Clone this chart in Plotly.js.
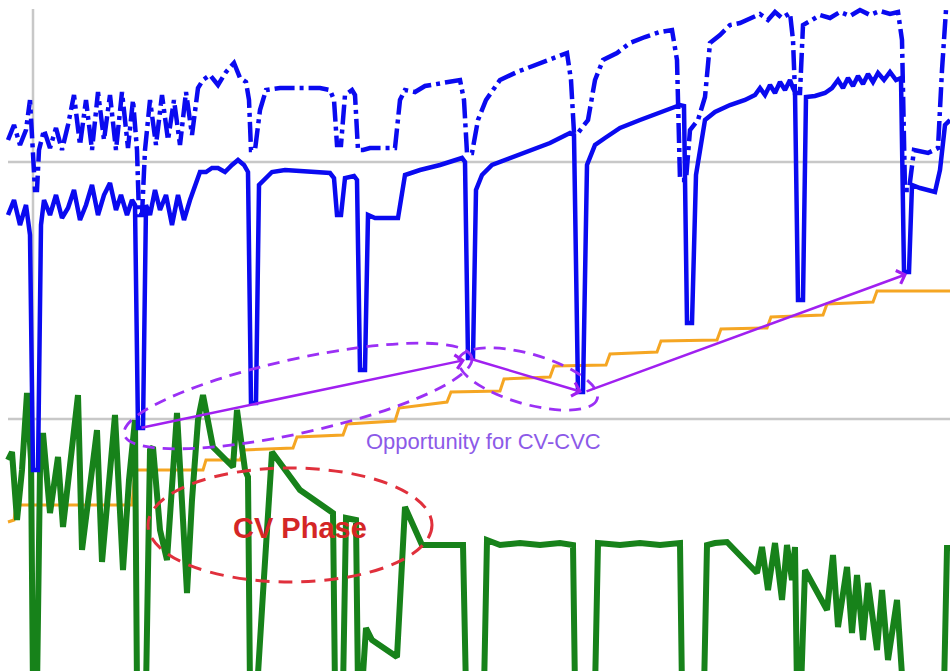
<!DOCTYPE html>
<html>
<head>
<meta charset="utf-8">
<script src="https://cdn.plot.ly/plotly-3.0.1.min.js"></script>
<style>html,body{margin:0;padding:0;background:#fff;}#chart{width:950px;height:671px;}</style>
</head>
<body>
<div id="chart"></div>
<script>
// ---- Data (time axis = horizontal, value axis = vertical, drawn top-down) ----
const blueSolidT = [8,14,20,26,28,30,33,38,41,44,50,56,62,68,74,80,86,92,98,104,110,116,121,127,132,135,138,143,146,150,155,160,166,172,178,184,190,196,200,206,212,218,225,232,238,244,248,251,256,259,266,272,285,300,315,330,334,337,341,345,354,357,360,365,368,375,398,405,420,440,462,465,468,473,476,482,492,510,530,550,570,574,578,583,587,595,605,620,640,660,680,684,687,692,696,705,715,730,745,755,760,765,770,775,780,785,790,793,795,798,803,806,815,825,832,838,843,848,853,858,863,868,873,878,884,890,896,901,904,909,912,920,935,940,945,950];
const blueSolidV = [215,200,225,205,220,235,470,470,225,200,215,195,218,208,190,220,205,185,215,195,183,210,195,215,200,205,428,428,205,215,190,210,195,225,195,220,200,185,172,172,168,168,172,165,160,165,172,403,403,185,178,172,170,171,172,173,178,215,215,178,176,180,370,370,215,218,218,175,170,165,158,162,358,358,190,175,165,158,150,143,133,135,392,392,165,145,138,128,120,112,105,106,323,323,175,120,112,105,100,95,88,95,85,93,82,90,80,88,92,300,300,97,96,93,88,80,88,78,86,76,84,74,82,73,80,72,80,78,272,272,185,188,192,170,125,120];

const blueDashT = [8,14,20,26,30,33,35,37,39,44,50,56,62,68,74,80,86,92,98,104,110,116,122,128,133,137,139,142,145,150,156,162,168,174,180,186,192,198,203,210,218,226,234,240,246,249,251,255,260,266,280,300,320,330,334,337,341,345,352,355,358,363,370,395,400,405,415,425,435,450,460,464,467,472,478,486,493,500,517,535,553,567,571,574,578,588,595,603,617,630,645,660,672,677,680,686,690,698,705,710,720,730,740,750,760,768,775,782,790,793,795,800,803,812,820,830,840,850,860,870,880,890,898,902,905,909,914,928,938,942,946,950];
const blueDashV = [140,125,145,130,100,150,190,190,150,130,148,128,150,125,95,145,100,150,92,140,95,150,92,148,100,150,215,215,150,100,145,95,140,100,145,92,135,88,80,75,85,72,63,78,82,100,150,150,110,90,88,88,88,90,100,145,145,95,90,95,150,150,148,148,100,90,92,86,84,82,80,100,153,153,120,100,90,80,72,65,58,53,80,133,133,120,80,60,53,43,37,32,30,60,180,180,130,120,97,43,35,25,23,18,14,20,12,18,13,40,93,93,25,20,15,18,12,16,10,15,11,14,12,40,190,190,150,153,148,70,10,10];

const orangeT = [8,14,16,132,135,203,206,240,244,293,297,343,347,395,399,447,451,500,504,550,554,606,610,657,661,717,721,767,771,823,827,873,877,950];
const orangeV = [522,520,505,505,470,470,460,460,450,448,437,435,424,421,408,402,392,391,379,377,366,365,354,352,341,340,329,328,317,315,304,302,291,291];

const greenT = [8,12,17,22,27,31,33,37,40,43,50,58,63,70,78,82,90,97,102,109,115,123,129,135,137,146,150,153,160,167,172,177,183,187,192,198,203,213,233,237,245,248,250,257,263,272,300,333,335,343,346,356,358,362,366,372,397,405,422,463,466,484,487,500,520,540,560,573,575,595,598,620,640,660,680,682,704,707,715,727,757,762,768,775,782,787,792,795,797,801,805,827,833,838,847,852,857,863,868,877,882,888,897,903,944,947,950];
const greenV = [460,452,520,470,393,460,690,690,470,433,513,457,527,470,395,550,480,430,562,480,415,570,480,420,690,690,450,447,530,560,480,413,520,593,500,420,395,447,467,410,470,477,690,690,593,452,490,513,690,690,518,520,690,690,628,640,657,507,545,545,690,690,540,545,543,545,543,545,690,690,543,545,543,545,543,690,690,545,543,542,573,547,590,543,600,545,580,547,690,690,570,610,555,627,567,633,575,640,583,650,590,660,600,690,690,548,548];

// annotation content
const arrowTailT = [140, 468, 585];
const arrowTailV = [428, 358, 392];
const arrowHeadT = [465, 582, 907];
const arrowHeadV = [360, 392, 274];
const labelOpportunity = 'Opportunity for CV-CVC';
const labelCV = 'CV Phase';

// ---- helpers ----
function ellipsePath(cx, cy, a, b, deg) {
  const th = deg * Math.PI / 180, k = 0.5523;
  const ux = Math.cos(th), uy = Math.sin(th), vx = -Math.sin(th), vy = Math.cos(th);
  const P = (p, q) => (cx + p * a * ux + q * b * vx).toFixed(2) + ',' + (cy + p * a * uy + q * b * vy).toFixed(2);
  return 'M' + P(1, 0) +
    ' C' + P(1, k) + ' ' + P(k, 1) + ' ' + P(0, 1) +
    ' C' + P(-k, 1) + ' ' + P(-1, k) + ' ' + P(-1, 0) +
    ' C' + P(-1, -k) + ' ' + P(-k, -1) + ' ' + P(0, -1) +
    ' C' + P(k, -1) + ' ' + P(1, -k) + ' ' + P(1, 0) + ' Z';
}

const traces = [
  {x: orangeT, y: orangeV, mode: 'lines', line: {color: '#f5a623', width: 3}, hoverinfo: 'skip'},
  {x: greenT, y: greenV, mode: 'lines', line: {color: '#17821a', width: 6}, hoverinfo: 'skip'},
  {x: blueDashT, y: blueDashV, mode: 'lines', line: {color: '#0a0af0', width: 4.5, dash: '20px,5px,4px,5px'}, hoverinfo: 'skip'},
  {x: blueSolidT, y: blueSolidV, mode: 'lines', line: {color: '#0a0af0', width: 4.5}, hoverinfo: 'skip'}
];

const purple = '#a020f0';
const annotations = [];
for (let i = 0; i < arrowTailT.length; i++) {
  annotations.push({
    x: arrowHeadT[i], y: arrowHeadV[i], ax: arrowTailT[i], ay: arrowTailV[i],
    xref: 'x', yref: 'y', axref: 'x', ayref: 'y', text: '', showarrow: true,
    arrowhead: 4, arrowsize: 1.1, arrowwidth: 2.5, arrowcolor: purple, standoff: 0
  });
}
annotations.push({x: 483, y: 441, xref: 'x', yref: 'y', text: labelOpportunity, showarrow: false,
  font: {family: 'Liberation Sans, Arial, sans-serif', size: 22, color: '#8c5ae8'}, xanchor: 'center', yanchor: 'middle'});
annotations.push({x: 300, y: 528, xref: 'x', yref: 'y', text: '<b>' + labelCV + '</b>', showarrow: false,
  font: {family: 'Liberation Sans, Arial, sans-serif', size: 29, color: '#d42626'}, xanchor: 'center', yanchor: 'middle'});

const grey = '#c8c8c8';
const shapes = [
  {type: 'line', xref: 'x', yref: 'y', x0: 33, x1: 33, y0: 9, y1: 671, line: {color: grey, width: 2.5}, layer: 'below'},
  {type: 'line', xref: 'x', yref: 'y', x0: 8, x1: 950, y0: 162, y1: 162, line: {color: grey, width: 2.5}, layer: 'below'},
  {type: 'line', xref: 'x', yref: 'y', x0: 8, x1: 950, y0: 419, y1: 419, line: {color: grey, width: 2.5}, layer: 'below'},
  {type: 'circle', xref: 'x', yref: 'y', x0: 148, x1: 432, y0: 468, y1: 582, line: {color: '#e0303c', width: 3, dash: '14px,9px'}},
  {type: 'path', xref: 'x', yref: 'y', path: ellipsePath(298, 396, 178, 37, -12.5), line: {color: '#9b30f5', width: 2.8, dash: '12px,8px'}},
  {type: 'path', xref: 'x', yref: 'y', path: ellipsePath(528, 379, 72, 25, 16), line: {color: '#9b30f5', width: 2.8, dash: '12px,8px'}}
];

const layout = {
  width: 950, height: 671,
  margin: {l: 0, r: 0, t: 0, b: 0},
  paper_bgcolor: '#ffffff', plot_bgcolor: '#ffffff',
  showlegend: false,
  xaxis: {range: [0, 950], visible: false, fixedrange: true},
  yaxis: {range: [671, 0], visible: false, fixedrange: true},
  shapes: shapes,
  annotations: annotations
};

Plotly.newPlot('chart', traces, layout, {displayModeBar: false, staticPlot: true});
</script>
</body>
</html>
